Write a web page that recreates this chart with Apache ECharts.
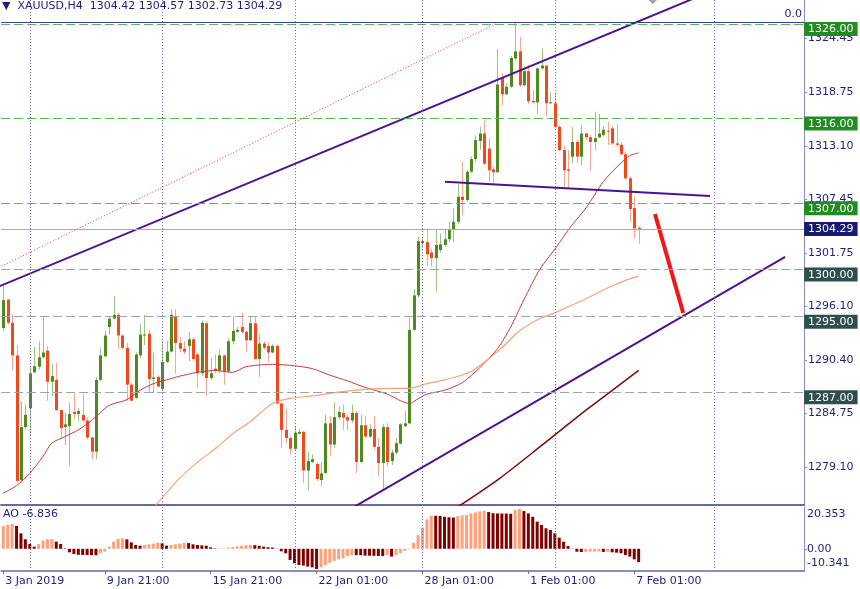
<!DOCTYPE html>
<html><head><meta charset="utf-8">
<script src="https://cdn.jsdelivr.net/npm/echarts@6/dist/echarts.min.js"></script>
<style>html,body{margin:0;padding:0;background:#fff;}#c{width:860px;height:589px;}</style>
</head><body><div id="c"></div>
<script>
// ---------------- DATA ----------------
const symbolName = 'XAUUSD,H4';
// [open, high, low, close] per H4 bar
const candles = [
[1293.8,1298.4,1293.5,1296.75],[1296.8,1296.9,1294.2,1294.35],[1294.35,1295.3,1289.3,1290.9],[1290.9,1292.0,1277.5,1277.6],
[1277.7,1286.0,1277.4,1283.3],[1283.3,1285.7,1283.0,1284.6],[1285.3,1289.75,1282.5,1289.0],[1289.1,1291.8,1289.0,1289.75],
[1289.7,1292.4,1289.4,1290.7],[1290.7,1295.0,1290.6,1291.2],[1291.4,1291.9,1286.1,1288.1],[1288.1,1290.0,1286.6,1288.7],
[1288.3,1290.1,1285.0,1285.1],[1285.1,1285.2,1282.2,1283.2],[1283.3,1284.8,1281.4,1283.6],[1283.4,1285.9,1279.2,1284.7],
[1284.9,1286.9,1284.1,1284.7],[1284.7,1285.3,1283.9,1285.0],[1284.6,1286.9,1283.9,1284.0],[1284.0,1284.3,1282.0,1282.2],
[1282.2,1282.3,1279.9,1280.7],[1280.7,1288.6,1279.9,1288.3],[1288.3,1291.7,1288.2,1290.9],[1290.8,1293.5,1290.7,1293.0],
[1293.9,1294.9,1293.1,1294.8],[1294.8,1297.2,1294.7,1295.2],[1295.2,1295.4,1291.6,1293.0],[1293.0,1293.1,1291.5,1291.7],
[1291.7,1292.2,1286.1,1287.8],[1287.8,1288.0,1286.0,1286.1],[1286.4,1291.2,1286.3,1291.0],[1290.9,1294.2,1290.6,1293.1],
[1293.0,1295.2,1292.0,1293.1],[1293.2,1293.6,1287.0,1288.4],[1288.4,1291.2,1286.9,1288.55],[1288.6,1288.8,1287.5,1287.6],
[1287.35,1292.4,1287.1,1290.2],[1290.2,1292.4,1290.1,1291.3],[1291.3,1295.8,1291.2,1295.2],[1295.05,1295.8,1289.0,1292.2],
[1292.2,1292.8,1291.2,1291.6],[1291.6,1292.4,1291.0,1291.3],[1291.9,1293.4,1290.3,1292.6],[1292.6,1292.8,1290.3,1290.5],
[1291.0,1291.2,1287.45,1289.0],[1289.0,1294.6,1288.7,1294.35],[1294.3,1294.5,1286.6,1288.5],[1288.5,1290.6,1288.3,1289.0],
[1289.5,1291.0,1289.0,1289.3],[1289.3,1291.5,1289.0,1290.9],[1290.9,1291.0,1287.8,1289.2],[1289.2,1292.75,1289.0,1292.4],
[1292.4,1295.05,1292.05,1293.5],[1293.4,1293.9,1293.3,1293.6],[1293.9,1295.4,1293.2,1293.35],[1293.4,1293.5,1291.3,1292.5],
[1292.5,1295.05,1292.4,1294.3],[1294.3,1295.0,1290.45,1290.5],[1290.5,1293.1,1288.6,1292.15],[1292.15,1292.4,1291.5,1291.7],
[1291.9,1292.3,1290.2,1291.2],[1291.2,1292.15,1291.1,1291.9],[1291.9,1292.05,1285.7,1285.8],[1285.8,1285.9,1281.1,1283.0],
[1283.0,1285.2,1281.6,1282.15],[1282.15,1282.3,1280.4,1281.0],[1281.0,1283.3,1280.85,1282.7],[1282.6,1283.1,1282.5,1282.8],
[1282.8,1282.9,1277.4,1278.7],[1278.7,1280.7,1276.6,1279.7],[1279.6,1280.4,1279.5,1279.9],[1279.4,1279.6,1277.6,1277.8],
[1277.7,1279.6,1277.0,1278.4],[1278.45,1284.6,1278.3,1283.7],[1283.7,1284.45,1280.2,1281.45],[1281.45,1285.9,1281.1,1284.35],
[1284.35,1285.5,1284.1,1284.9],[1284.8,1285.7,1283.0,1284.3],[1284.35,1284.6,1282.97,1284.0],[1284.0,1285.7,1283.75,1284.8],
[1284.8,1285.0,1278.45,1279.6],[1279.6,1284.6,1279.5,1283.5],[1283.5,1284.45,1282.15,1282.3],[1282.3,1283.6,1282.15,1283.1],
[1283.1,1284.45,1280.9,1281.2],[1281.2,1282.15,1278.1,1279.5],[1279.5,1283.6,1276.75,1283.3],[1283.3,1283.75,1279.15,1279.6],
[1279.7,1280.9,1279.3,1280.6],[1280.6,1282.15,1280.4,1281.6],[1281.55,1283.75,1281.45,1283.6],[1283.4,1285.0,1283.3,1283.7],
[1283.7,1294.9,1283.6,1293.6],[1293.6,1297.9,1293.5,1297.25],[1297.25,1303.5,1297.0,1303.0],[1302.8,1303.4,1302.3,1303.0],
[1302.9,1304.3,1300.3,1301.6],[1301.8,1302.2,1300.3,1301.2],[1301.2,1304.2,1297.65,1302.6],[1302.05,1303.8,1301.8,1302.65],
[1302.6,1304.2,1302.4,1303.2],[1303.2,1305.05,1302.9,1304.2],[1304.2,1306.45,1302.9,1305.05],[1305.05,1309.1,1304.8,1307.7],
[1307.7,1311.4,1305.75,1307.35],[1307.35,1310.5,1307.2,1310.35],[1310.35,1311.95,1310.2,1311.7],[1311.7,1314.2,1311.4,1313.7],
[1313.6,1315.1,1312.65,1314.4],[1314.4,1315.9,1311.05,1311.2],[1312.8,1313.95,1309.3,1310.5],[1310.6,1310.9,1309.1,1310.3],
[1310.3,1323.35,1310.2,1319.6],[1320.3,1320.8,1317.35,1318.55],[1318.55,1319.7,1318.5,1319.35],[1319.35,1322.6,1319.25,1322.4],
[1322.35,1326.2,1322.2,1323.1],[1323.1,1324.65,1319.35,1319.5],[1319.5,1321.5,1319.45,1321.0],[1321.0,1321.65,1317.5,1317.8],
[1317.85,1319.0,1317.6,1317.7],[1317.7,1321.4,1316.5,1321.3],[1321.3,1323.4,1321.2,1321.6],[1321.6,1321.65,1316.2,1317.6],
[1317.6,1318.8,1317.5,1317.7],[1317.6,1318.8,1314.95,1315.1],[1315.1,1315.3,1312.5,1312.65],[1312.65,1313.1,1308.6,1310.5],
[1310.6,1312.65,1308.6,1310.45],[1311.95,1315.1,1311.25,1313.5],[1313.5,1313.7,1311.25,1311.95],[1311.95,1315.3,1311.1,1314.4],
[1314.4,1314.5,1313.7,1314.0],[1314.0,1314.25,1310.5,1313.5],[1313.5,1316.7,1312.65,1313.9],[1314.0,1316.5,1313.9,1314.4],
[1314.25,1315.2,1314.1,1314.8],[1314.7,1315.65,1313.2,1314.6],[1314.95,1315.2,1313.2,1313.35],[1313.35,1315.4,1313.0,1313.2],
[1313.2,1313.5,1312.1,1312.2],[1312.2,1312.5,1309.5,1309.65],[1309.65,1309.8,1305.06,1306.4],[1306.5,1307.7,1303.3,1304.35],
[1304.42,1304.57,1302.73,1304.29]
];
// Awesome Oscillator, one value per bar
const ao = [
11.66,12.17,12.68,11.66,7.91,4.84,2.45,1.09,2.45,4.16,4.84,4.90,3.65,2.45,0.24,-1.81,-2.66,-3.10,-3.15,-3.20,
-3.25,-3.30,-2.32,-1.47,1.09,3.65,5.01,5.35,4.84,3.31,1.94,1.60,1.94,2.28,2.63,3.14,2.79,1.60,1.94,2.28,
2.63,2.97,2.92,2.28,1.94,1.77,1.60,0.75,0.24,0.05,0.20,0.60,0.90,1.20,1.50,1.75,1.95,1.85,1.55,1.10,
0.80,0.65,-0.10,-1.30,-2.30,-5.70,-7.40,-8.30,-8.60,-9.10,-9.50,-10.341,-9.50,-8.30,-7.10,-6.20,-5.40,-4.90,-3.70,-3.20,
-3.25,-3.30,-3.50,-3.55,-3.60,-3.70,-3.75,-3.20,-4.00,-3.20,-2.30,-1.10,-0.30,3.10,7.00,10.90,15.00,16.95,16.90,16.85,
16.40,16.10,16.00,16.70,17.10,17.30,18.10,18.60,19.10,19.35,18.80,18.20,18.10,18.05,18.00,17.90,19.90,20.353,19.30,18.10,
16.40,13.90,12.20,10.50,9.60,7.90,5.70,3.65,1.40,-0.10,-1.50,-1.65,-1.50,-1.45,-1.40,-1.35,-1.60,-1.50,-1.80,-2.00,
-2.30,-3.20,-4.00,-5.40,-6.836
];
// moving averages: [bar index, price]
const maRed = [[0,1276.3],[3,1277.1],[6,1278.4],[9,1280.2],[11,1281.6],[14,1282.3],[17,1283.0],[20,1284.0],[24,1285.6],[28,1286.2],
[31,1287.2],[34,1287.9],[37,1288.3],[40,1288.7],[44,1289.1],[48,1289.3],[52,1289.1],[55,1289.7],[61,1289.95],[66,1289.8],[70,1289.5],
[74,1288.8],[78,1288.2],[82,1287.5],[87,1286.8],[90,1286.1],[92,1285.8],[94,1286.3],[96,1286.8],[100,1287.2],[104,1288.0],[108,1289.6],
[112,1291.6],[115,1293.9],[118,1296.8],[121.6,1300.0],[125.4,1302.4],[128.4,1304.4],[132.2,1306.6],[136,1309.3],[139.8,1311.2],[142,1312.05],[144,1312.35]];
const maOrange = [[34.5,1275.0],[40,1277.9],[44.6,1279.8],[48,1281.0],[52,1282.6],[56,1283.9],[61,1285.8],[65,1286.35],[70,1286.6],
[76,1287.0],[82,1287.3],[88,1287.4],[92,1287.4],[96,1287.9],[100,1288.3],[106,1289.2],[113,1291.7],[117,1293.5],[121.6,1294.8],
[124.7,1295.35],[130.7,1296.6],[136.8,1298.0],[141.3,1298.9],[144,1299.3]];
const maDark = [[100,1274.0],[103.5,1275.0],[112.6,1277.9],[121.6,1281.2],[130.7,1284.6],[137.5,1287.0],[144,1289.3]];
// drawn objects: [bar index, price] end points
const channelUpper = [[-1,1298.2],[170,1331.32]];
const channelLower = [[78.6,1274.6],[177.2,1301.32]];
const neckline = [[100.1,1309.3],[160.2,1307.78]];
const targetMove = [[147.7,1305.87],[154.1,1295.39]];
const fiboBase = [[-1,1300.2],[111.9,1326.1]];
const topMarker = [[147.2,1328.95]];
const greenLevels = [1326.00, 1316.00, 1307.00];
const grayLevels = [1300.00, 1295.00, 1287.00];
const fiboLevels = [[1326.2, '0.0'], [1287.0, '23.6']];
// axes
const priceRange = [1275.05, 1328.54];
const priceTicks = [1324.45, 1318.75, 1313.10, 1307.45, 1301.75, 1296.10, 1290.40, 1284.75, 1279.10];
const aoTicks = [20.353, 0, -10.341];
const aoTickText = ['20.353', '0.00', '-10.341'];
const xTickIdx = [0, 23, 47, 71, 95, 119, 143];
const xTickText = ['3 Jan 2019', '9 Jan 21:00', '15 Jan 21:00', '22 Jan 01:00', '28 Jan 01:00', '1 Feb 01:00', '7 Feb 01:00'];
const vGridIdx = [6.2, 36, 66.1, 95.05, 125, 161.1];
const slotCount = 182;

// ---------------- STYLE ----------------
const FONT = 'DejaVu Sans';
const TXT = '#1e1e78';
const AXIS_COL = '#8a8ac8';
const SEP_COL = '#6a6aa0';
const GRID_COL = '#6c6cb0';
const BODY_UP = '#4e8a1e', BODY_DN = '#f4481c', WICK_UP = '#9ec283', WICK_DN = '#f7a596';

const cats = Array.from({length: slotCount}, (_, i) => String(i));
const last = candles[candles.length - 1];
const aoMax = aoTicks[0], aoMin = aoTicks[2];
const aoPad = (aoMax - aoMin) * 2 / 60;

function renderCandle(params, api) {
  const i = api.value(0);
  const o = api.value(1), h = api.value(2), l = api.value(3), c = api.value(4);
  const po = api.coord([i, o]), pc = api.coord([i, c]);
  const ph = api.coord([i, h]), pl = api.coord([i, l]);
  const cx = Math.round(po[0]);
  const up = c >= o;
  let top = Math.min(po[1], pc[1]), bot = Math.max(po[1], pc[1]);
  if (bot - top < 1) bot = top + 1;
  return {type: 'group', children: [
    {type: 'line', shape: {x1: cx + 0.5, y1: ph[1], x2: cx + 0.5, y2: pl[1]}, style: {stroke: up ? WICK_UP : WICK_DN, lineWidth: 1}},
    {type: 'rect', shape: {x: cx - 1, y: top, width: 3, height: bot - top}, style: {fill: up ? BODY_UP : BODY_DN}}
  ]};
}

function boxLabel(text, bg, hang) {
  return {show: true, position: 'end', distance: 0, formatter: text, backgroundColor: bg, color: '#fff',
    padding: [1, 4, 0, 4], fontSize: 11, fontFamily: FONT, lineHeight: 13,
    verticalAlign: hang ? 'top' : 'middle', offset: hang ? [0, -2] : [0, 0]};
}
const levelLines = [];
greenLevels.forEach(v => levelLines.push({yAxis: v, lineStyle: {color: '#58b858', type: [9, 4], width: 1},
  label: boxLabel(v.toFixed(2), '#228b22', true)}));
grayLevels.forEach(v => levelLines.push({yAxis: v, lineStyle: {color: '#9aa5a5', type: [9, 4], width: 1},
  label: boxLabel(v.toFixed(2), '#2f4f4f', true)}));
levelLines.push({yAxis: last[3], lineStyle: {color: '#a8a8b8', type: 'solid', width: 1},
  label: boxLabel(last[3].toFixed(2), '#191970', false)});
fiboLevels.forEach((f, k) => levelLines.push({yAxis: f[0], lineStyle: {color: '#3c3ca8', type: 'solid', width: 1, opacity: k === 0 ? 1 : 0},
  label: {show: true, position: 'insideEndTop', distance: 2, formatter: f[1], color: TXT, fontSize: 11, fontFamily: FONT}}));

function segment(name, data, color, width, type, z) {
  return {name, type: 'line', xAxisIndex: 0, yAxisIndex: 0, data, symbol: 'none', clip: true, silent: true, z,
    lineStyle: {color, width, type: type || 'solid'}};
}
function ma(name, data, color, width) {
  return {name, type: 'line', xAxisIndex: 0, yAxisIndex: 0, data, symbol: 'none', smooth: 0.25, clip: true, silent: true, z: 3,
    lineStyle: {color, width}};
}
function aoAxis(idx, va, showLine) {
  return {type: 'value', gridIndex: 1, position: 'right', min: aoMin - aoPad, max: aoMax + aoPad,
    axisLine: {show: showLine, onZero: false, lineStyle: {color: AXIS_COL}},
    axisTick: {show: idx === 1, customValues: [aoTicks[idx]], length: 3, lineStyle: {color: AXIS_COL}},
    axisLabel: {show: true, customValues: [aoTicks[idx]], formatter: () => aoTickText[idx], verticalAlign: va,
      color: TXT, fontSize: 11, fontFamily: FONT, margin: 3},
    splitLine: {show: false}};
}

const chart = echarts.init(document.getElementById('c'), null, {renderer: 'canvas'});
chart.setOption({
  animation: false,
  backgroundColor: '#ffffff',
  textStyle: {fontFamily: FONT},
  title: [
    {text: '\u25BC  ' + symbolName + '  ' + last.map(v => v.toFixed(2)).join(' '), left: 2, top: 1, padding: 0,
      textStyle: {fontSize: 11, fontWeight: 'normal', color: TXT, fontFamily: FONT}},
    {text: 'AO ' + ao[ao.length - 1].toFixed(3), left: 3, top: 509, padding: 0,
      textStyle: {fontSize: 11, fontWeight: 'normal', color: TXT, fontFamily: FONT}}
  ],
  grid: [
    {left: 1.1, right: 55.9, top: 0, height: 505, outerBoundsMode: 'none', containLabel: false},
    {left: 1.1, right: 55.9, top: 507, height: 64, outerBoundsMode: 'none', containLabel: false}
  ],
  xAxis: [
    {type: 'value', gridIndex: 0, min: -0.5, max: slotCount - 0.5,
      axisLine: {show: true, onZero: false, lineStyle: {color: SEP_COL, width: 2}},
      axisTick: {show: false}, axisLabel: {show: false}, splitLine: {show: false}},
    {type: 'category', gridIndex: 1, data: cats, boundaryGap: true,
      axisLine: {show: true, onZero: false, lineStyle: {color: SEP_COL, width: 1.5}},
      axisTick: {show: true, alignWithLabel: true, interval: (i) => xTickIdx.includes(i), length: 3, lineStyle: {color: SEP_COL}},
      axisLabel: {show: true, interval: (i) => xTickIdx.includes(i), formatter: (v, i) => xTickText[xTickIdx.indexOf(i)] || '',
        align: 'left', padding: [0, 0, 0, 2], margin: 5, color: TXT, fontSize: 11, fontFamily: FONT},
      splitLine: {show: false}},
    {type: 'value', gridIndex: 1, min: -0.5, max: slotCount - 0.5, show: false}
  ],
  yAxis: [
    {type: 'value', gridIndex: 0, position: 'right', min: priceRange[0], max: priceRange[1],
      axisLine: {show: true, onZero: false, lineStyle: {color: AXIS_COL}},
      axisTick: {show: true, customValues: priceTicks, length: 3, lineStyle: {color: AXIS_COL}},
      axisLabel: {show: true, customValues: priceTicks, formatter: v => v.toFixed(2), color: TXT, fontSize: 11, fontFamily: FONT, margin: 4},
      splitLine: {show: false}},
    aoAxis(1, 'middle', true),
    aoAxis(0, 'top', false),
    aoAxis(2, 'bottom', false)
  ],
  series: [
    {name: 'levels', type: 'line', xAxisIndex: 0, yAxisIndex: 0, data: [[-10, priceRange[0]]], symbol: 'none', silent: true, z: 1,
      lineStyle: {opacity: 0},
      markLine: {silent: true, symbol: ['none', 'none'], animation: false, data: levelLines.concat(
        vGridIdx.map(v => ({xAxis: v, lineStyle: {color: GRID_COL, type: [1, 2], width: 1}, label: {show: false}})))}},
    {name: 'aoGrid', type: 'line', xAxisIndex: 2, yAxisIndex: 1, data: [[-10, 0]], symbol: 'none', silent: true, z: 1,
      lineStyle: {opacity: 0},
      markLine: {silent: true, symbol: ['none', 'none'], animation: false,
        data: vGridIdx.map(v => ({xAxis: v, lineStyle: {color: GRID_COL, type: [1, 2], width: 1}, label: {show: false}}))}},
    {name: 'price', type: 'custom', xAxisIndex: 0, yAxisIndex: 0, clip: true, z: 2,
      data: candles.map((d, i) => [i, d[0], d[1], d[2], d[3]]),
      encode: {x: 0, y: [1, 2, 3, 4]}, renderItem: renderCandle},
    ma('maRed', maRed, '#c83a3c', 1),
    ma('maOrange', maOrange, '#ffa07a', 1.2),
    ma('maDark', maDark, '#7d0a0a', 1.5),
    segment('fiboBase', fiboBase, '#ff3030', 1, [1, 2], 3),
    segment('channelUpper', channelUpper, '#4b1390', 2, 'solid', 4),
    segment('channelLower', channelLower, '#4b1390', 2, 'solid', 4),
    segment('neckline', neckline, '#4b1390', 2, 'solid', 4),
    segment('targetMove', targetMove, '#f01818', 4, 'solid', 4),
    {name: 'marker', type: 'scatter', xAxisIndex: 0, yAxisIndex: 0, data: topMarker, clip: false, silent: true, z: 4,
      symbol: 'diamond', symbolSize: [16, 16], itemStyle: {color: '#8c8c9c'}},
    {name: 'AO', type: 'bar', xAxisIndex: 1, yAxisIndex: 1, data: ao, barWidth: 3, silent: true, z: 2,
      itemStyle: {color: p => (p.dataIndex === 0 || ao[p.dataIndex] >= ao[p.dataIndex - 1]) ? '#ffa07a' : '#800000'}}
  ]
});
</script></body></html>
